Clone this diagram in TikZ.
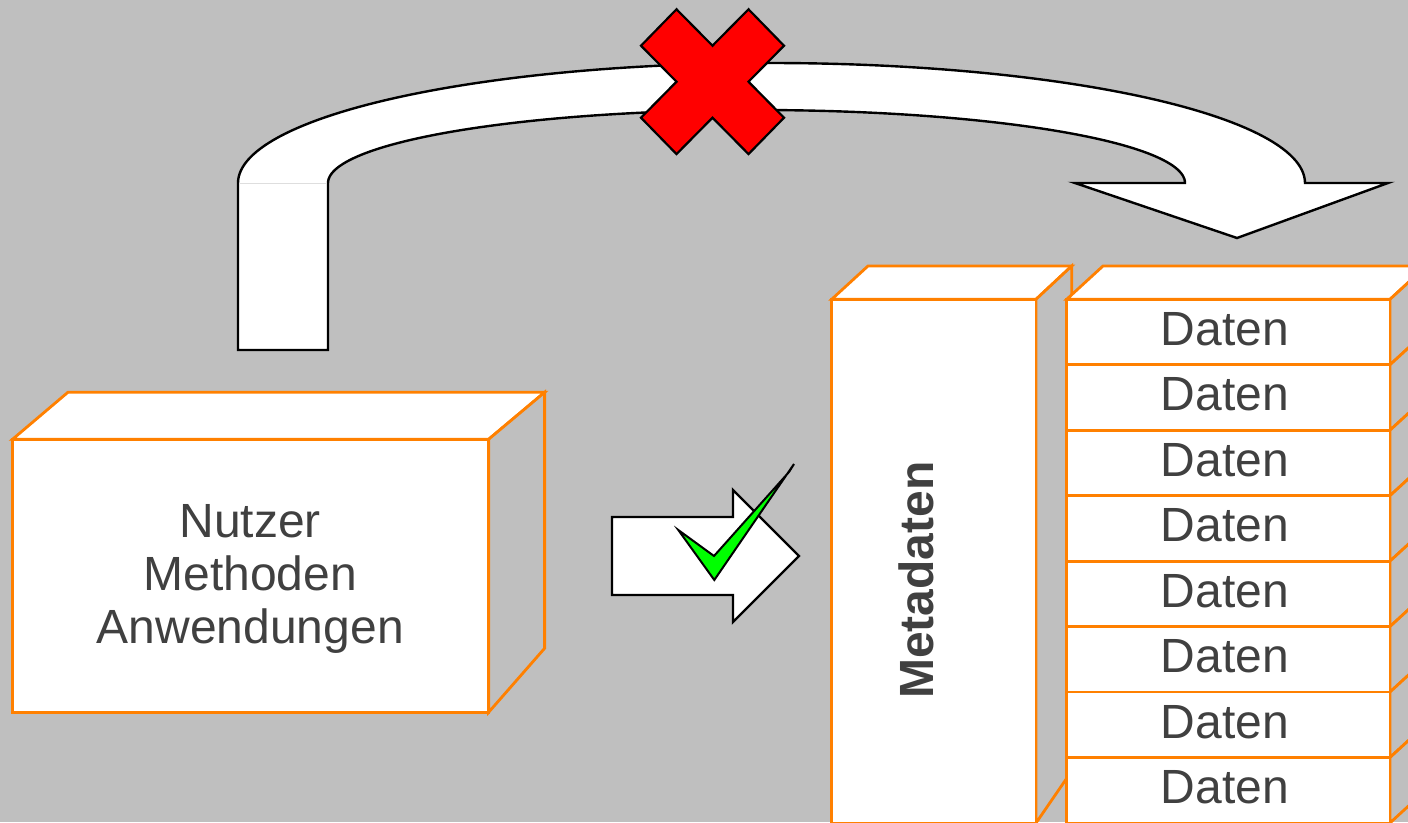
\documentclass[tikz,border=0pt]{standalone}
\usepackage{fontspec}
\setmainfont{Liberation Sans}
\definecolor{bg}{RGB}{191,191,191}
\definecolor{seam}{RGB}{222,222,222}
\definecolor{boxedge}{RGB}{255,128,0}
\definecolor{ink}{RGB}{64,64,64}
\definecolor{crossred}{RGB}{255,0,0}
\definecolor{checkgreen}{RGB}{0,255,0}

\begin{document}
\begin{tikzpicture}[x=1pt,y=-1pt,
  boxline/.style={draw=boxedge,line width=2.8pt,line join=miter},
  boxfront/.style={boxline,fill=white},
  boxtop/.style={boxline,fill=white},
  boxside/.style={boxline,fill=bg},
  txt/.style={text=ink,font=\fontsize{48}{52.8}\selectfont,inner sep=0pt},
  blk/.style={draw=black,line width=2.4pt,line join=miter}]

\useasboundingbox (0,0) rectangle (1408,822);
\fill[bg] (0,0) rectangle (1408,822);
\clip (0,0) rectangle (1408,822);

% curved arrow from the user box over to the data stack
\draw[blk,fill=white] (238,350) -- (238,183)
  -- plot[domain=180:0,samples=120] ({771.5+533.5*cos(\x)},{183-120*sin(\x)})
  -- (1388,183) -- (1237,238) -- (1075,183) -- (1186,183)
  -- plot[domain=0:180,samples=120] ({756.5+428.5*cos(\x)},{183-73*sin(\x)})
  -- (328,350) -- cycle;
\draw[seam,line width=0.8pt] (239.5,183) -- (326.8,183);

% red cross on the curved arrow
\begin{scope}[shift={(712.5,81.7)}]
  \draw[blk,fill=crossred,line width=2.2pt]
    (-71.5,-36) -- (-36,-72.4) -- (0,-36) -- (36,-72.4) -- (71.5,-36) -- (36,0)
    -- (71.5,36) -- (36,72.4) -- (0,36) -- (-36,72.4) -- (-71.5,36) -- (-36,0) -- cycle;
\end{scope}

% user / methods / applications box
\draw[boxtop] (12.5,439.3) -- (67.9,392.3) -- (544.6,392.3) -- (488.6,439.3) -- cycle;
\draw[boxside] (488.6,439.3) -- (544.6,392.3) -- (544.6,648.3) -- (488.6,712.3) -- cycle;
\draw[boxfront] (12.5,439.3) rectangle (488.6,712.3);
\node[txt,align=center] (user) at (250.3,579) {Nutzer\\Methoden\\Anwendungen};

% short arrow with green tick
\draw[blk,fill=white] (612,517) -- (733,517) -- (733,490) -- (799,556)
  -- (733,622) -- (733,595) -- (612,595) -- cycle;
\draw[blk,fill=checkgreen,line width=2pt]
  (678.3,530) -- (714,556) -- (789,472) -- (794,464) -- (714.3,580) -- cycle;

% metadata column
\draw[boxtop] (831.7,299.3) -- (868,266) -- (1071.7,266) -- (1036,299.3) -- cycle;
\draw[boxside] (1036,299.3) -- (1071.7,266) -- (1071.7,771) -- (1036,823) -- cycle;
\draw[boxfront] (831.7,299.3) rectangle (1036,823);
\node[txt,font=\fontsize{48}{52.8}\selectfont\bfseries,rotate=90,anchor=base]
  (meta) at (933,580) {Metadaten};

% stack of data blocks
\draw[boxtop] (1066.7,299.3) -- (1103,266) -- (1426,266) -- (1390,299.3) -- cycle;
\foreach \i in {0,...,7}{
  \pgfmathsetmacro\rowtop{299.3+65.45*\i}
  \pgfmathsetmacro\rowbot{\rowtop+65.45}
  \draw[boxside] (1390,\rowtop) -- (1426,\rowtop-33) -- (1426,\rowbot-33) -- (1390,\rowbot) -- cycle;
  \draw[boxfront] (1066.7,\rowtop) rectangle (1390,\rowbot);
  \node[txt,anchor=base] (daten\i) at (1225,\rowtop+46) {Daten};
}
\end{tikzpicture}
\end{document}
